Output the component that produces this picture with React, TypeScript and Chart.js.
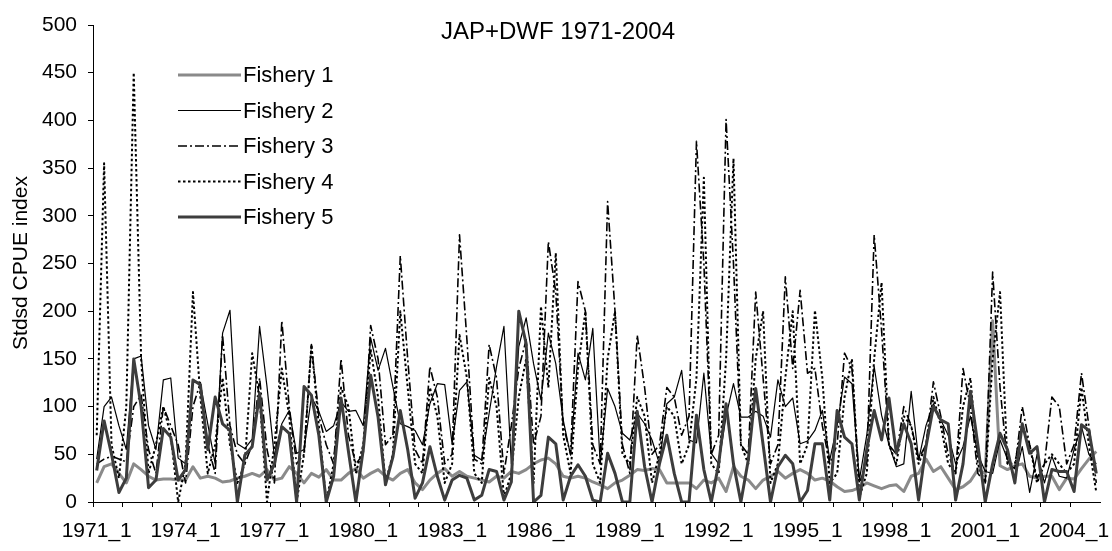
import React, { useEffect, useRef } from 'react';
import { Chart, registerables } from 'chart.js';

Chart.register(...registerables);

// Quarterly categories 1971_1 … 2004_4
const firstYear = 1971;
const lastYear = 2004;
const quarterLabels: string[] = [];
for (let y = firstYear; y <= lastYear; y++) {
  for (let q = 1; q <= 4; q++) quarterLabels.push(`${y}_${q}`);
}

const chartTitle = 'JAP+DWF 1971-2004';
const yAxisTitle = 'Stdsd CPUE index';
const seriesNames = ['Fishery 1', 'Fishery 2', 'Fishery 3', 'Fishery 4', 'Fishery 5'];

const fishery1 = [
  20, 37, 40, 30, 20, 40, 34, 27, 23, 24, 24, 23, 23, 37, 25, 27,
  25, 21, 22, 25, 27, 30, 27, 34, 23, 25, 37, 30, 20, 30, 26, 34,
  23, 23, 30, 35, 25, 30, 34, 27, 23, 30, 34, 20, 13, 23, 30, 35,
  27, 32, 27, 25, 23, 21, 27, 25, 32, 30, 34, 40, 44, 46, 40, 27,
  25, 27, 25, 21, 18, 14, 20, 23, 28, 34, 33, 35, 34, 20, 20, 20,
  20, 14, 23, 20, 25, 11, 37, 27, 23, 14, 23, 27, 32, 25, 30, 34,
  30, 23, 25, 22, 16, 11, 12, 15, 20, 17, 14, 17, 18, 11, 27, 30,
  45, 32, 37, 25, 13, 16, 22, 34, 30, 190, 38, 34, 38, 40, 27, 25,
  27, 27, 13, 25, 24, 35, 45, 53,
];

const fishery2 = [
  45, 100, 110, 80, 55, 150, 153, 80, 55, 128, 130, 46, 40, 128, 124, 82,
  40, 177, 201, 61, 56, 66, 184, 121, 47, 82, 96, 51, 55, 110, 95, 74,
  80, 105, 95, 96, 80, 172, 138, 161, 121, 82, 79, 75, 60, 103, 124, 123,
  61, 117, 126, 49, 44, 93, 142, 184, 40, 163, 193, 145, 107, 177, 145, 86,
  49, 156, 128, 182, 40, 119, 100, 72, 65, 93, 82, 65, 40, 103, 110, 138,
  65, 62, 135, 51, 40, 90, 124, 89, 89, 95, 90, 68, 128, 100, 109, 61,
  64, 75, 96, 44, 80, 131, 124, 23, 70, 142, 91, 60, 37, 40, 116, 44,
  80, 103, 86, 70, 40, 58, 90, 50, 32, 30, 65, 45, 25, 58, 10, 50,
  20, 48, 27, 25, 55, 79, 50, 40,
];

const fishery3 = [
  40, 45, 48, 45, 42, 100, 112, 55, 30, 100, 80, 60, 20, 100, 125, 60,
  30, 175, 80, 50, 40, 60, 130, 55, 20, 190, 100, 40, 50, 165, 90, 60,
  40, 150, 70, 40, 50, 185, 150, 60, 70, 258, 150, 55, 40, 142, 110, 40,
  50, 280, 170, 45, 40, 165, 130, 30, 80, 140, 170, 60, 90, 273, 220, 80,
  50, 231, 200, 60, 40, 315, 200, 60, 30, 175, 120, 50, 60, 120, 110, 70,
  90, 378, 250, 50, 70, 401, 250, 60, 50, 220, 130, 40, 60, 236, 140, 222,
  135, 140, 80, 40, 60, 156, 140, 20, 40, 280, 180, 60, 50, 100, 80, 45,
  60, 126, 90, 50, 30, 140, 100, 30, 20, 241, 120, 40, 35, 100, 60, 25,
  40, 110, 100, 40, 60, 135, 80, 20,
];

const fishery4 = [
  70, 355, 60, 25, 100, 450, 150, 30, 60, 100, 70, 0, 40, 220, 110, 30,
  60, 130, 60, 20, 40, 156, 110, 0, 60, 140, 90, 0, 50, 165, 80, 0,
  40, 120, 100, 30, 60, 160, 110, 20, 50, 200, 120, 40, 30, 120, 90, 20,
  40, 175, 130, 30, 20, 130, 100, 5, 30, 110, 150, 20, 205, 120, 261, 70,
  30, 140, 200, 40, 20, 150, 200, 50, 40, 110, 90, 20, 50, 100, 90, 40,
  60, 130, 340, 40, 30, 150, 360, 60, 40, 150, 200, 20, 40, 130, 200, 40,
  60, 201, 130, 20, 30, 110, 150, 5, 30, 150, 230, 60, 40, 90, 80, 40,
  60, 110, 80, 40, 30, 100, 130, 40, 20, 150, 220, 40, 40, 80, 60, 20,
  40, 50, 40, 30, 40, 120, 60, 10,
];

const fishery5 = [
  33, 85, 50, 10, 25, 150, 100, 15, 23, 77, 68, 23, 34, 128, 123, 55,
  110, 82, 75, 0, 49, 58, 114, 23, 40, 79, 72, 0, 121, 112, 70, 0,
  27, 109, 53, 0, 55, 133, 89, 18, 47, 96, 55, 4, 20, 58, 27, 2,
  23, 28, 25, 2, 7, 34, 32, 2, 21, 200, 166, 0, 7, 68, 61, 2,
  27, 39, 27, 2, 0, 51, 30, 0, 0, 95, 37, 0, 40, 70, 30, 0,
  0, 91, 34, 0, 40, 103, 40, 0, 44, 119, 60, 0, 37, 49, 40, 0,
  12, 61, 61, 2, 96, 68, 61, 2, 55, 96, 65, 109, 51, 82, 61, 2,
  58, 100, 86, 82, 2, 40, 116, 60, 0, 40, 72, 55, 20, 82, 51, 58,
  0, 34, 32, 32, 11, 81, 75, 30,
];

const FONT = '"Liberation Sans", Arial, sans-serif';

// Chart title, rotated y-axis title and an in-plot legend drawn on the canvas
const overlayPlugin = {
  id: 'overlay',
  afterDraw(chart: any) {
    const ctx = chart.ctx as CanvasRenderingContext2D;
    ctx.save();
    ctx.fillStyle = '#000';

    ctx.font = `24px ${FONT}`;
    ctx.textAlign = 'center';
    ctx.textBaseline = 'middle';
    ctx.fillText(chartTitle, 558, 32);

    ctx.save();
    ctx.translate(21, 263);
    ctx.rotate(-Math.PI / 2);
    ctx.font = `21px ${FONT}`;
    ctx.fillText(yAxisTitle, 0, 0);
    ctx.restore();

    const rows = [75, 110.5, 146, 181.5, 217];
    ctx.font = `22px ${FONT}`;
    ctx.textAlign = 'left';
    chart.data.datasets.forEach((ds: any, i: number) => {
      const y = rows[i];
      ctx.save();
      ctx.strokeStyle = ds.borderColor;
      ctx.lineWidth = ds.borderWidth;
      ctx.setLineDash(ds.borderDash || []);
      ctx.beginPath();
      ctx.moveTo(178, y);
      ctx.lineTo(241, y);
      ctx.stroke();
      ctx.restore();
      ctx.fillText(ds.label, 243, y + 1);
    });
    ctx.restore();
  },
};

export default function App() {
  const canvasRef = useRef<HTMLCanvasElement | null>(null);

  useEffect(() => {
    if (!canvasRef.current) return;
    const series = [fishery1, fishery2, fishery3, fishery4, fishery5];
    const styles = [
      { color: '#8a8a8a', width: 3, dash: [] as number[], order: 5 },
      { color: '#000000', width: 1.2, dash: [] as number[], order: 4 },
      { color: '#000000', width: 1.6, dash: [9, 3, 2, 3], order: 3 },
      { color: '#000000', width: 2, dash: [2.5, 2.5], order: 2 },
      { color: '#3d3d3d', width: 3, dash: [] as number[], order: 1 },
    ];

    const chart = new Chart(canvasRef.current, {
      type: 'line',
      data: {
        labels: quarterLabels,
        datasets: series.map((values, i) => ({
          label: seriesNames[i],
          data: values,
          borderColor: styles[i].color,
          borderWidth: styles[i].width,
          borderDash: styles[i].dash,
          borderJoinStyle: 'round' as const,
          pointRadius: 0,
          tension: 0,
          fill: false,
          order: styles[i].order,
        })),
      },
      options: {
        responsive: false,
        animation: false,
        devicePixelRatio: 1,
        layout: { padding: { left: 0, right: 12, top: 25, bottom: 0 } },
        plugins: {
          legend: { display: false },
          title: { display: false },
          tooltip: { enabled: false },
        },
        scales: {
          x: {
            type: 'category',
            offset: true,
            grid: {
              offset: true,
              drawOnChartArea: false,
              drawTicks: true,
              tickLength: 5,
              color: 'rgba(0,0,0,0)',
              tickColor: (c: any) => (c.index % 4 === 0 ? '#000' : 'rgba(0,0,0,0)'),
            },
            border: { color: '#000', width: 1 },
            ticks: {
              autoSkip: false,
              maxRotation: 0,
              minRotation: 0,
              padding: 12,
              color: '#000',
              font: { family: FONT, size: 21 },
              callback: (_v: any, i: number) => (i % 12 === 0 ? quarterLabels[i] : ''),
            },
            afterFit: (s: any) => {
              s.height = 49;
            },
          },
          y: {
            min: 0,
            max: 500,
            ticks: {
              stepSize: 50,
              padding: 11,
              color: '#000',
              font: { family: FONT, size: 21 },
            },
            grid: {
              drawOnChartArea: false,
              tickLength: 5,
              tickColor: '#000',
            },
            border: { color: '#000', width: 1 },
            afterFit: (s: any) => {
              s.width = 93;
            },
          },
        },
      },
      plugins: [overlayPlugin],
    });

    return () => chart.destroy();
  }, []);

  return (
    <div style={{ position: 'absolute', left: 0, top: 0, width: 1112, height: 551, background: '#fff' }}>
      <canvas ref={canvasRef} width={1112} height={551} style={{ display: 'block' }} />
    </div>
  );
}
